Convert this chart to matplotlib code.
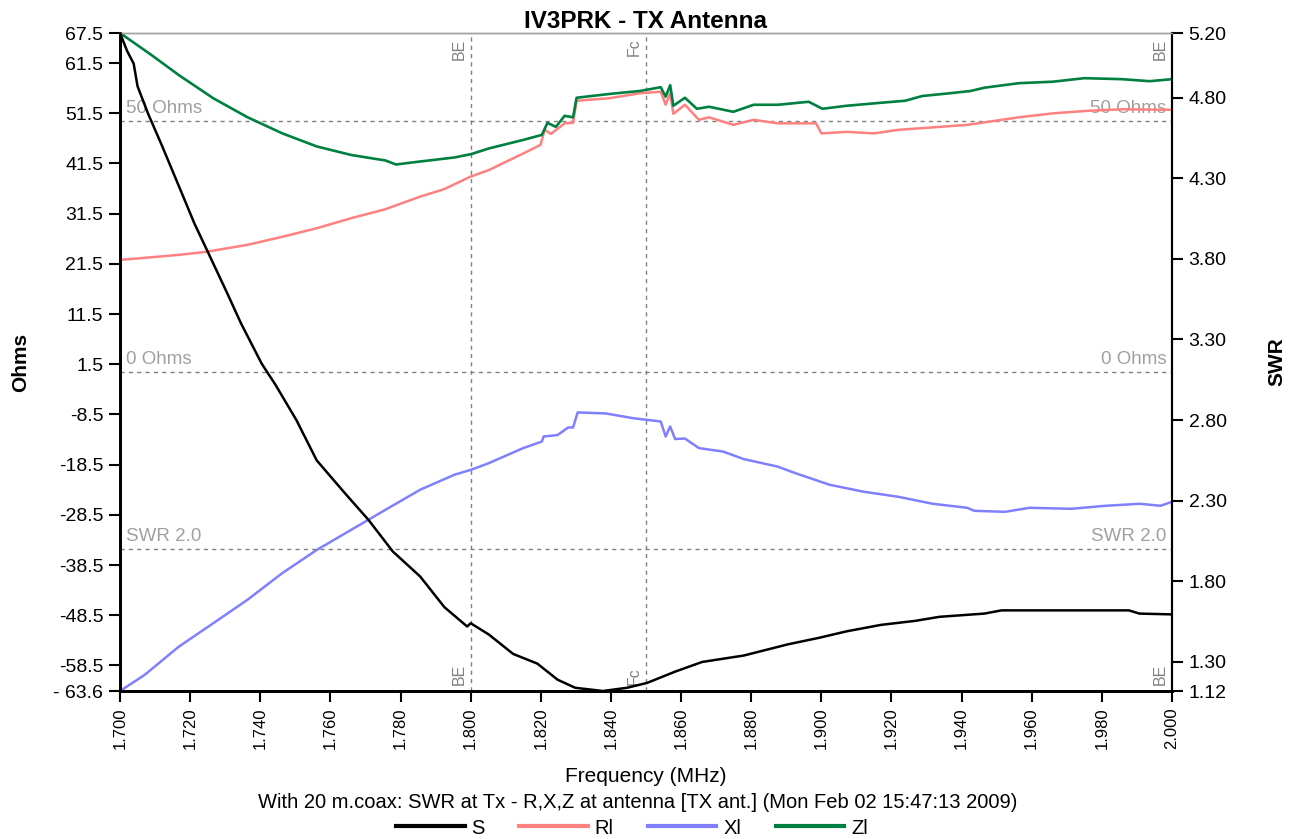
import matplotlib
matplotlib.use('Agg')
import matplotlib.pyplot as plt
from matplotlib.lines import Line2D

plt.rcParams['font.family'] = ['Liberation Sans', 'DejaVu Sans']

# frequency (MHz) and values
zl_f = [1.700, 1.7086, 1.7168, 1.7266, 1.7364, 1.7463, 1.7561, 1.7659, 1.7757, 1.7787,
        1.7856, 1.7954, 1.8003, 1.8052, 1.8150, 1.8203, 1.8219, 1.8243, 1.8268, 1.8292,
        1.8302, 1.8395, 1.8483, 1.8542, 1.8556, 1.8569, 1.8578, 1.8611, 1.8645, 1.8680,
        1.8749, 1.8807, 1.8876, 1.8964, 1.9003, 1.9072, 1.9170, 1.9239, 1.9288, 1.9367,
        1.9426, 1.9465, 1.9563, 1.9661, 1.9750, 1.9857, 1.9936, 2.000]
zl = [67.5, 63.3, 59.1, 54.5, 50.7, 47.5, 44.9, 43.2, 42.1, 41.3,
      41.9, 42.7, 43.4, 44.5, 46.2, 47.2, 49.6, 48.8, 51.0, 50.7,
      54.6, 55.35, 55.95, 56.7, 54.8, 57.1, 53.0, 54.6, 52.4, 52.8,
      51.8, 53.2, 53.2, 53.8, 52.4, 53.0, 53.6, 54.0, 54.95, 55.5,
      55.95, 56.6, 57.5, 57.8, 58.5, 58.3, 57.9, 58.3]

rl_f = [1.700, 1.707, 1.7168, 1.7246, 1.7364, 1.7463, 1.7561, 1.7659, 1.7757, 1.7856,
        1.7925, 1.800, 1.8052, 1.8150, 1.8199, 1.8211, 1.8229, 1.8268, 1.8292, 1.8302,
        1.8395, 1.8483, 1.8542, 1.8556, 1.8569, 1.8578, 1.8611, 1.8651, 1.8680, 1.8749,
        1.8807, 1.8876, 1.8985, 1.9000, 1.9072, 1.9150, 1.9219, 1.9318, 1.9416, 1.9495,
        1.9563, 1.9661, 1.9760, 1.9857, 2.000]
rl = [22.3, 22.7, 23.3, 23.9, 25.3, 26.9, 28.6, 30.6, 32.4, 34.9,
      36.4, 38.9, 40.2, 43.5, 45.2, 48.2, 47.4, 49.5, 49.6, 54.0,
      54.5, 55.5, 55.8, 53.2, 55.5, 51.4, 53.2, 50.2, 50.7, 49.2,
      50.2, 49.5, 49.5, 47.5, 47.8, 47.5, 48.2, 48.7, 49.2, 50.0,
      50.7, 51.5, 52.0, 52.3, 52.2]

xl_f = [1.700, 1.707, 1.7168, 1.7266, 1.7364, 1.7463, 1.7561, 1.7659, 1.7757, 1.7856,
        1.7954, 1.800, 1.8052, 1.8150, 1.8203, 1.8208, 1.8248, 1.8278, 1.8292, 1.8305,
        1.8385, 1.8464, 1.8542, 1.8556, 1.8569, 1.8583, 1.8611, 1.8651, 1.8720, 1.8779,
        1.8876, 1.8926, 1.9023, 1.9121, 1.9219, 1.9318, 1.9416, 1.9436, 1.9524, 1.9594,
        1.9712, 1.9810, 1.9908, 1.9967, 2.000]
xl = [-63.6, -60.4, -54.75, -50.1, -45.4, -40.1, -35.5, -31.5, -27.5, -23.5,
      -20.5, -19.55, -18.2, -15.2, -13.9, -12.9, -12.6, -11.1, -11.1, -8.1,
      -8.3, -9.25, -9.9, -12.9, -10.9, -13.4, -13.3, -15.2, -15.9, -17.4,
      -18.9, -20.2, -22.5, -23.9, -24.9, -26.3, -27.1, -27.7, -27.9, -27.1,
      -27.3, -26.7, -26.3, -26.7, -25.9]

s_f = [1.700, 1.702, 1.7039, 1.705, 1.708, 1.7118, 1.7168, 1.7212, 1.7251, 1.7305,
       1.7345, 1.7404, 1.7443, 1.7503, 1.7561, 1.7640, 1.7709, 1.7778, 1.7856, 1.7925,
       1.7990, 1.800, 1.8052, 1.8121, 1.8190, 1.8248, 1.8298, 1.8377, 1.8446, 1.8503,
       1.8583, 1.8660, 1.8779, 1.8906, 1.8994, 1.9072, 1.9170, 1.9268, 1.9337, 1.9465,
       1.9514, 1.9877, 1.9907, 2.000]
swr = [5.20, 5.09, 5.01, 4.87, 4.70, 4.51, 4.25, 4.02, 3.84, 3.59,
       3.40, 3.15, 3.02, 2.80, 2.55, 2.35, 2.18, 1.985, 1.83, 1.64,
       1.52, 1.54, 1.47, 1.35, 1.29, 1.19, 1.14, 1.12, 1.14, 1.17,
       1.24, 1.30, 1.34, 1.41, 1.45, 1.49, 1.53, 1.555, 1.58, 1.60,
       1.62, 1.62, 1.60, 1.595]

x_ticks = [1.700, 1.720, 1.740, 1.760, 1.780, 1.800, 1.820, 1.840, 1.860, 1.880,
           1.900, 1.920, 1.940, 1.960, 1.980, 2.000]
ohm_ticks = [67.5, 61.5, 51.5, 41.5, 31.5, 21.5, 11.5, 1.5, -8.5, -18.5,
             -28.5, -38.5, -48.5, -58.5, -63.6]
ohm_labels = ['67.5', '61.5', '51.5', '41.5', '31.5', '21.5', '11.5', '1.5', '-8.5', '-18.5',
              '-28.5', '-38.5', '-48.5', '-58.5', '- 63.6']
swr_ticks = [5.20, 4.80, 4.30, 3.80, 3.30, 2.80, 2.30, 1.80, 1.30, 1.12]

markers = [(1.800, 'BE'), (1.850, 'Fc'), (2.000, 'BE')]

C_S = 'black'
C_R = '#ff8080'
C_X = '#8080ff'
C_Z = '#008040'
GRID = '#808080'
TXT = '#a0a0a0'


def main():
    fig = plt.figure(figsize=(12.94, 8.39), dpi=100)
    ax = fig.add_axes([120 / 1294, 1 - 691 / 839, 1052 / 1294, 658 / 839])
    ax2 = ax.twinx()

    # reference lines
    for v, lab in [(50, '50 Ohms'), (0, '0 Ohms')]:
        ax.axhline(v, color=GRID, lw=1, ls=(0, (3, 3)), zorder=1)
        ax.annotate(lab, xy=(0, v), xycoords=('axes fraction', 'data'), xytext=(4, 3),
                    textcoords='offset points', ha='left', va='bottom', fontsize=13.5, color=TXT)
        ax.annotate(lab, xy=(1, v), xycoords=('axes fraction', 'data'), xytext=(-4, 3),
                    textcoords='offset points', ha='right', va='bottom', fontsize=13.5, color=TXT)
    ax2.axhline(2.0, color=GRID, lw=1, ls=(0, (3, 3)), zorder=1)
    for xa, ha, dx in [(0, 'left', 4), (1, 'right', -4)]:
        ax2.annotate('SWR 2.0', xy=(xa, 2.0), xycoords=('axes fraction', 'data'), xytext=(dx, 3),
                     textcoords='offset points', ha=ha, va='bottom', fontsize=13.5, color=TXT)

    for f, lab in markers:
        ax.axvline(f, color=GRID if f < 2.0 else 'black', lw=1, ls=(0, (3, 3)), zorder=1)
        ax.annotate(lab, xy=(f, 1), xycoords=('data', 'axes fraction'), xytext=(-3, -4),
                    textcoords='offset points', rotation=90, ha='right', va='top',
                    fontsize=11.5, color=GRID)
        ax.annotate(lab, xy=(f, 0), xycoords=('data', 'axes fraction'), xytext=(-3, 4),
                    textcoords='offset points', rotation=90, ha='right', va='bottom',
                    fontsize=11.5, color=GRID)

    ax.plot(rl_f, rl, color=C_R, lw=1.8, zorder=3)
    ax.plot(xl_f, xl, color=C_X, lw=1.8, zorder=3)
    ax.plot(zl_f, zl, color=C_Z, lw=1.9, zorder=4)
    ax2.plot(s_f, swr, color=C_S, lw=1.8, zorder=5)

    ax.set_xlim(1.700, 2.000)
    ax.set_ylim(-63.6, 67.5)
    ax2.set_ylim(1.12, 5.20)

    ax.set_xticks(x_ticks)
    ax.set_xticklabels(['%.3f' % t for t in x_ticks], rotation=90, fontsize=12)
    ax.set_yticks(ohm_ticks)
    ax.set_yticklabels(ohm_labels, fontsize=14)
    ax2.set_yticks(swr_ticks)
    ax2.set_yticklabels(['%.2f' % t for t in swr_ticks], fontsize=14)

    ax.tick_params(axis='both', length=8, width=1.5, pad=4)
    ax2.tick_params(axis='y', length=8, width=1.5, pad=4)

    for a in (ax, ax2):
        a.spines['top'].set_color('#a0a0a0')
        a.spines['top'].set_linewidth(1)
        a.spines['left'].set_linewidth(2)
        a.spines['bottom'].set_linewidth(2)
        a.spines['right'].set_linewidth(1.5)

    ax.set_ylabel('Ohms', fontsize=15, fontweight='bold')
    ax.yaxis.set_label_coords(-0.085, 0.5)
    ax2.set_ylabel('SWR', fontsize=15, fontweight='bold')
    ax2.yaxis.set_label_coords(1.091, 0.5)

    ax.set_title('IV3PRK - TX Antenna', fontsize=17.5, fontweight='bold', pad=3)

    fig.text(646 / 1294, 1 - 777 / 839, 'Frequency (MHz)', ha='center', va='center', fontsize=15)
    fig.text(638 / 1294, 1 - 802 / 839,
             'With 20 m.coax: SWR at Tx - R,X,Z at antenna [TX ant.] (Mon Feb 02 15:47:13 2009)',
             ha='center', va='center', fontsize=14.5)

    handles = [Line2D([], [], color=c, lw=3) for c in (C_S, C_R, C_X, C_Z)]
    fig.legend(handles, ['S', 'Rl', 'Xl', 'Zl'], loc='center', bbox_to_anchor=(632 / 1294, 1 - 828 / 839),
               ncol=4, frameon=False, fontsize=14.5, handlelength=3.4, handletextpad=0.35,
               columnspacing=1.7, borderpad=0)

    plt.savefig('out.png', dpi=100, facecolor='white')


if __name__ == '__main__':
    main()
